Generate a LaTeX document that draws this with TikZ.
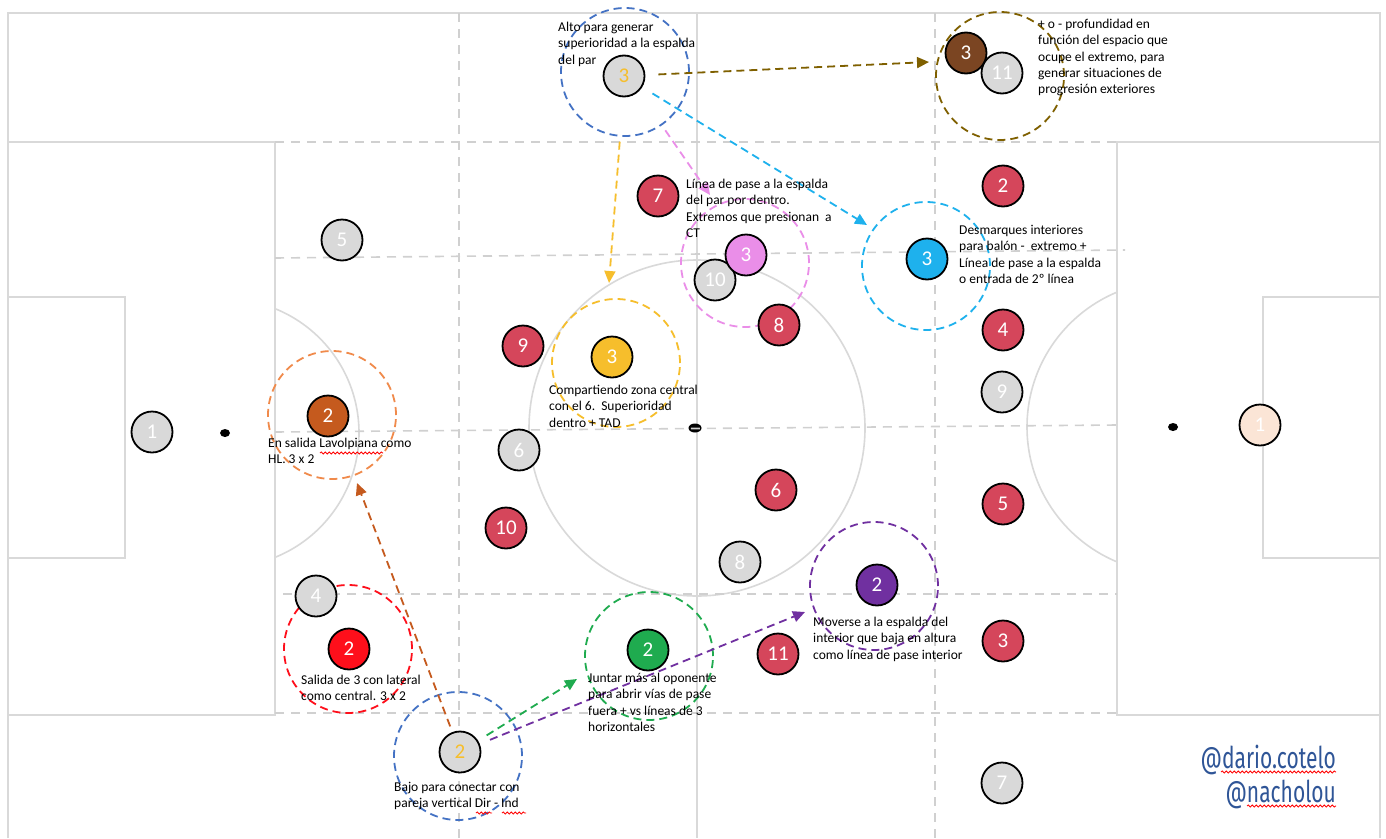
\documentclass[tikz,border=0pt]{standalone}
\usepackage{fontspec}
\setmainfont{Carlito}
\newfontfamily\tagfont[FakeStretch=0.7]{Fira Sans}
\usetikzlibrary{
  arrows.meta,
  positioning,
  decorations.pathmorphing,
}
\definecolor{line_gray}{HTML}{D9D9D9}
\definecolor{grid_gray}{HTML}{D0D0D0}
\definecolor{home_gray}{HTML}{D9D9D9}
\definecolor{rival_red}{HTML}{D5465B}
\definecolor{keeper_peach}{HTML}{FBE5D6}
\definecolor{c_pink}{HTML}{EA8EE8}
\definecolor{c_cyan}{HTML}{1EB1ED}
\definecolor{c_yellow}{HTML}{F6BE2C}
\definecolor{c_rust}{HTML}{C55A1E}
\definecolor{c_orange}{HTML}{F08A4B}
\definecolor{c_red}{HTML}{FE0F1B}
\definecolor{c_green}{HTML}{1FAB4F}
\definecolor{c_purple}{HTML}{7030A0}
\definecolor{c_brown}{HTML}{7B4522}
\definecolor{c_olive}{HTML}{7F6000}
\definecolor{c_blue}{HTML}{4472C4}
\definecolor{tag_blue}{HTML}{2F5597}
\tikzset{
  pitch_line/.style={
    draw=line_gray,
    line width=1.6pt,
  },
  grid_line/.style={
    draw=grid_gray,
    line width=1.6pt,
    dash pattern=on 9pt off 7pt,
  },
  player/.style={
    circle,
    minimum size=41pt,
    inner sep=0pt,
    line width=1.8pt,
    draw=black,
    text=white,
    font=\fontsize{21}{21}\selectfont,
  },
  home/.style={
    player,
    fill=home_gray,
  },
  rival/.style={
    player,
    fill=rival_red,
  },
  zone/.style={
    circle,
    minimum size=128pt,
    inner sep=0pt,
    line width=1.8pt,
    dash pattern=on 8pt off 5pt,
  },
  run/.style={
    line width=1.8pt,
    dash pattern=on 8pt off 5pt,
    -{Triangle[length=12pt,width=11pt]},
  },
  note/.style={
    anchor=north west,
    inner sep=0pt,
    align=left,
    font=\fontsize{13.5}{16.3}\selectfont,
  },
  tag/.style={
    anchor=base east,
    inner sep=0pt,
    text=tag_blue,
    font=\tagfont\fontsize{30}{30}\selectfont,
  },
  squiggle/.style={
    draw=red,
    line width=0.8pt,
    decorate,
    decoration={snake, amplitude=1.1pt, segment length=4pt},
  },
}

\begin{document}
\begin{tikzpicture}[x=1pt, y=-1pt]

  \useasboundingbox[fill=white] (0,0) rectangle (1386,838);

  % pitch
  \draw[pitch_line] (8,838) -- (8,13) -- (1380,13) -- (1380,838);
  \draw[pitch_line] (697,13) -- (697,838);
  \draw[pitch_line] (8,142) rectangle (275,715);
  \draw[pitch_line] (8,297) rectangle (125,558);
  \draw[pitch_line] (1117,142) rectangle (1380,715);
  \draw[pitch_line] (1263,297) rectangle (1380,558);
  \draw[pitch_line] (697,428) circle (168pt);
  \begin{scope}
    \clip (275,0) rectangle (697,838);
    \draw[pitch_line] (225,433) circle (134pt);
  \end{scope}
  \begin{scope}
    \clip (697,0) rectangle (1117,838);
    \draw[pitch_line] (1173,427) circle (146pt);
  \end{scope}
  \fill (225,433) ellipse (5pt and 4pt);
  \fill (695,428) ellipse (6.5pt and 4.5pt);
  \fill (1173,427) ellipse (5pt and 4pt);

  % zones of play
  \draw[grid_line] (459,13) -- (459,838);
  \draw[grid_line] (935,13) -- (935,838);
  \draw[grid_line] (275,142) -- (1117,142);
  \draw[grid_line] (275,258) -- (1125,250);
  \draw[grid_line] (275,432) -- (1117,425);
  \draw[grid_line] (283,594) -- (1117,594);
  \draw[grid_line] (275,713) -- (1117,713);

  % dashed areas
  \node[zone, draw=c_blue] (zone_high) at (625,72) {};
  \node[zone, draw=c_olive] (zone_wide) at (1000,76) {};
  \node[zone, draw=c_pink] (zone_pink) at (745,263) {};
  \node[zone, draw=c_cyan] (zone_cyan) at (926,266) {};
  \node[zone, draw=c_yellow] (zone_mid) at (616,363) {};
  \node[zone, draw=c_orange] (zone_rust) at (332,415) {};
  \node[zone, draw=c_red] (zone_red) at (348,649) {};
  \node[zone, draw=c_green] (zone_green) at (649,656) {};
  \node[zone, draw=c_purple] (zone_purple) at (874,586) {};
  \node[zone, draw=c_blue] (zone_low) at (458,756) {};

  % players
  \node[home] (h_1) at (152,432) {1};
  \node[home] (h_5) at (342,240) {5};
  \node[home] (h_6) at (519,450) {6};
  \node[home] (h_4) at (316,596) {4};
  \node[home] (h_10) at (715,280) {10};
  \node[home] (h_8) at (740,562) {8};
  \node[home] (h_9) at (1002,392) {9};
  \node[home] (h_7) at (1002,783) {7};
  \node[home, text=c_yellow] (h_3) at (624,76) {3};
  \node[home, text=c_yellow] (h_2) at (460,752) {2};

  \node[rival] (r_7) at (658,196) {7};
  \node[rival] (r_9) at (523,346) {9};
  \node[rival] (r_10) at (506,528) {10};
  \node[rival] (r_8) at (779,325) {8};
  \node[rival] (r_6) at (776,490) {6};
  \node[rival] (r_11) at (778,654) {11};
  \node[rival] (r_2) at (1003,186) {2};
  \node[rival] (r_4) at (1003,330) {4};
  \node[rival] (r_5) at (1003,504) {5};
  \node[rival] (r_3) at (1003,641) {3};
  \node[player, fill=keeper_peach] (r_1) at (1260,425) {1};

  \node[player, fill=c_pink] (p_pink) at (746,255) {3};
  \node[player, fill=c_cyan] (p_cyan) at (927,259) {3};
  \node[player, fill=c_yellow] (p_yellow) at (612,357) {3};
  \node[player, fill=c_rust] (p_rust) at (328,416) {2};
  \node[player, fill=c_red] (p_red) at (349,649) {2};
  \node[player, fill=c_green] (p_green) at (648,650) {2};
  \node[player, fill=c_purple] (p_purple) at (877,585) {2};
  \node[player, fill=c_brown] (p_brown) at (966,53) {3};
  \node[home] (h_11) at (1002,73) {11};

  % runs
  \coordinate (tip_olive) at (929,62);
  \coordinate (tip_cyan) at (867,225);
  \coordinate (tip_pink) at (710,195);
  \coordinate (tip_yellow) at (609,283);
  \coordinate (tip_rust) at (357,483);
  \coordinate (tip_green) at (577,679);
  \coordinate (tip_purple) at (805,612);
  \draw[run, c_olive, shorten <=13pt] (h_3) -- (tip_olive);
  \draw[run, c_cyan, shorten <=12pt] (h_3) -- (tip_cyan);
  \draw[run, c_pink, shorten <=6pt] (zone_high) -- (tip_pink);
  \draw[run, c_yellow, shorten <=5pt] (zone_high) -- (tip_yellow);
  \draw[run, c_rust, shorten <=6pt] (h_2) -- (tip_rust);
  \draw[run, c_green, shorten <=10pt] (h_2) -- (tip_green);
  \draw[run, c_purple, shorten <=11pt] (h_2) -- (tip_purple);

  % notes
  \node[note] (n_high) at (558,22) {Alto para generar\\superioridad a la espalda\\del par};
  \node[note] (n_wide) at (1038,19) {+ o - profundidad en\\función del espacio que\\ocupe el extremo, para\\generar situaciones de\\progresión exteriores};
  \node[note] (n_pink) at (686,179) {Línea de pase a la espalda\\del par por dentro.\\Extremos que presionan\ \ a\\CT};
  \node[note] (n_cyan) at (959,225) {Desmarques interiores\\para balón -\ \ extremo +\\Línea de pase a la espalda\\o entrada de 2º línea};
  \node[note] (n_mid) at (549,385) {Compartiendo zona central\\con el 6.\ \ Superioridad\\dentro + TAD};
  \node[note] (n_rust) at (268,438) {En salida Lavolpiana como\\HL. 3 x 2};
  \node[note] (n_red) at (301,675) {Salida de 3 con lateral\\como central. 3 x 2};
  \node[note] (n_green) at (588,673) {Juntar más al oponente\\para abrir vías de pase\\fuera + vs líneas de 3\\horizontales};
  \node[note] (n_purple) at (813,617) {Moverse a la espalda del\\interior que baja en altura\\como línea de pase interior};
  \node[note] (n_low) at (394,782) {Bajo para conectar con\\pareja vertical Dir - Ind};

  \node[tag] (tag_a) at (1336,768) {@dario.cotelo};
  \node[tag] (tag_b) at (1336,802) {@nacholou};

  % spell check marks
  \draw[squiggle] (320,453) -- (383,453);
  \draw[squiggle] (476,813) -- (492,813);
  \draw[squiggle] (502,813) -- (526,813);
  \draw[squiggle] (1221,772) -- (1336,772);
  \draw[squiggle] (1247,806) -- (1336,806);

\end{tikzpicture}
\end{document}
